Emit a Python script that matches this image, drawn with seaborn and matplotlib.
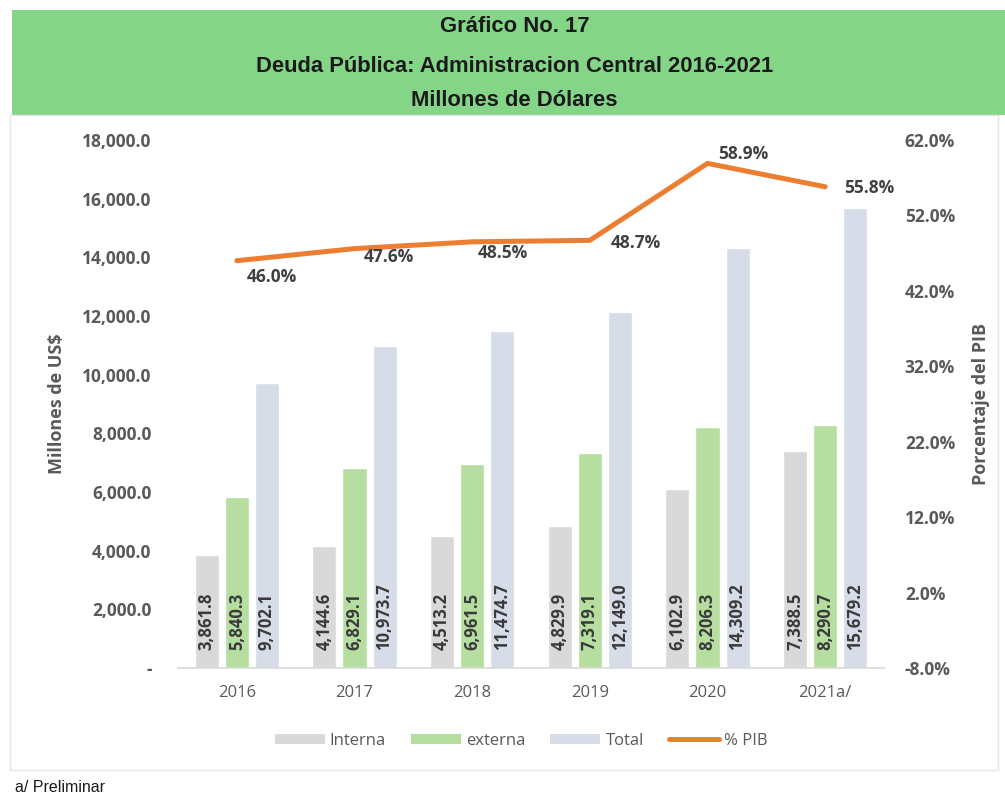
import matplotlib
matplotlib.use("Agg")
import matplotlib.pyplot as plt
from matplotlib import font_manager
from matplotlib.patches import Rectangle, Patch
from matplotlib.lines import Line2D
from matplotlib.ticker import FuncFormatter, MultipleLocator
import seaborn as sns
import pandas as pd
import numpy as np

# ---- data -------------------------------------------------------------
years = ["2016", "2017", "2018", "2019", "2020", "2021a/"]
interna = [3861.8, 4144.6, 4513.2, 4829.9, 6102.9, 7388.5]
externa = [5840.3, 6829.1, 6961.5, 7319.1, 8206.3, 8290.7]
total = [9702.1, 10973.7, 11474.7, 12149.0, 14309.2, 15679.2]
pct_pib = [46.0, 47.6, 48.5, 48.7, 58.9, 55.8]
series_names = ["Interna", "externa", "Total"]

colors = {"Interna": "#d9d9d9", "externa": "#b5dea0", "Total": "#d6dce8"}
line_color = "#ed7d31"
txt_gray = "#595959"

available = {f.name for f in font_manager.fontManager.ttflist}
title_font = "Liberation Sans Narrow" if "Liberation Sans Narrow" in available else "Liberation Sans"
title_size = 17 if title_font == "Liberation Sans Narrow" else 15.8
body_font = "Open Sans"

sns.set_theme(style="white")
plt.rcParams["font.family"] = [body_font, "DejaVu Sans"]

df = pd.DataFrame({
    "year": years * 3,
    "serie": [s for s in series_names for _ in years],
    "valor": interna + externa + total,
})

fig = plt.figure(figsize=(10.05, 7.97), dpi=100)
W, H = 1005, 797

# header band
fig.patches.append(Rectangle((12 / W, 1 - 115 / H), (W - 12) / W, 105 / H,
                             transform=fig.transFigure, facecolor="#85d589",
                             edgecolor="none", zorder=0))
# chart border
fig.patches.append(Rectangle((10 / W, 1 - 770 / H), 988 / W, 655 / H,
                             transform=fig.transFigure, facecolor="none",
                             edgecolor="#e6e6e6", linewidth=1.0, zorder=0))

for txt, y in [("Gráfico No. 17", 27), ("Deuda Pública: Administracion Central 2016-2021", 66),
               ("Millones de Dólares", 101)]:
    fig.text(0.512, 1 - y / H, txt, ha="center", va="center", fontsize=title_size,
             fontweight="bold", family=title_font, color="#1a1a1a")

ax = fig.add_axes([178 / W, 1 - 668 / H, 706 / W, 528 / H])
sns.barplot(data=df, x="year", y="valor", hue="serie", palette=colors,
            width=0.765, gap=0.2, ax=ax, legend=False, saturation=1)
xlim = (-0.5, len(years) - 0.5)

ax.set_ylim(0, 18000)
ax.yaxis.set_major_locator(MultipleLocator(2000))
ax.yaxis.set_major_formatter(FuncFormatter(lambda v, p: "-" if v == 0 else f"{v:,.1f}"))
ax.set_xlabel("")
ax.set_ylabel("Millones de US$", fontsize=13, fontweight="bold", color=txt_gray, labelpad=12)
for s in ["top", "right", "left"]:
    ax.spines[s].set_visible(False)
ax.spines["bottom"].set_color("#d9d9d9")
ax.spines["bottom"].set_linewidth(1.2)
ax.tick_params(axis="y", length=0, labelsize=12.5, labelcolor=txt_gray, pad=19)
ax.tick_params(axis="x", length=0, labelsize=12, labelcolor=txt_gray, pad=12)
for lbl in ax.get_yticklabels():
    lbl.set_fontweight("bold")

# value labels inside bars, anchored near the base
for container in ax.containers:
    for patch in container:
        h = patch.get_height()
        ax.annotate(f"{h:,.1f}", (patch.get_x() + patch.get_width() / 2, 0),
                    xytext=(0, 13), textcoords="offset points", rotation=90,
                    ha="center", va="bottom", fontsize=12, fontweight="bold",
                    color="#3a3a3a")

# percentage of GDP on a secondary axis
ax2 = ax.twinx()
line_df = pd.DataFrame({"pos": list(range(len(years))), "pct": pct_pib})
sns.lineplot(data=line_df, x="pos", y="pct", color=line_color, linewidth=3.6, ax=ax2)
ax.set_xlim(*xlim)
ax2.set_ylim(-8, 62)
ax2.set_yticks(np.arange(-8, 63, 10))
ax2.yaxis.set_major_formatter(FuncFormatter(lambda v, p: f"{v:.1f}%"))
ax2.set_ylabel("Porcentaje del PIB", fontsize=13, fontweight="bold", color=txt_gray,
               labelpad=12)
for s in ["top", "right", "left", "bottom"]:
    ax2.spines[s].set_visible(False)
ax2.tick_params(axis="y", length=0, labelsize=12.5, labelcolor=txt_gray, pad=15)
for lbl in ax2.get_yticklabels():
    lbl.set_fontweight("bold")

offsets = [(25, -12), (25, -6), (22, -8), (33, -2), (26, 7), (32, -1)]
for i, (v, off) in enumerate(zip(pct_pib, offsets)):
    ax2.annotate(f"{v:.1f}%", (i, v), xytext=off, textcoords="offset points",
                 ha="center", va="center", fontsize=12.5, fontweight="bold",
                 color="#404040")

handles = [Patch(facecolor=colors[s], edgecolor="none") for s in series_names]
handles.append(Line2D([0], [0], color=line_color, linewidth=3.6))
fig.legend(handles, series_names + ["% PIB"], loc="center", ncol=4,
           bbox_to_anchor=(521 / W, 1 - 741 / H), frameon=False, fontsize=12,
           labelcolor=txt_gray, handlelength=3.0, handleheight=0.6,
           columnspacing=1.5, handletextpad=0.3)

fig.text(15 / W, 1 - 787 / H, "a/ Preliminar", ha="left", va="center", fontsize=11.5,
         family=title_font, color="#1a1a1a")

fig.savefig("out.png", dpi=100)
